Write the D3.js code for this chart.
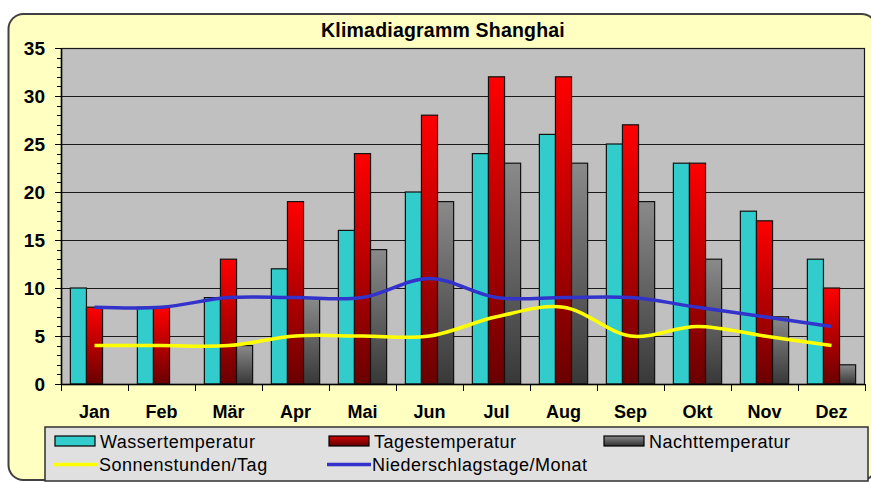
<!DOCTYPE html>
<html>
<head>
<meta charset="utf-8">
<script src="https://cdn.jsdelivr.net/npm/d3@7/dist/d3.min.js"></script>
<style>
  html, body { margin: 0; padding: 0; background: #ffffff; }
  svg { display: block; font-family: "Liberation Sans", Arial, sans-serif; }
</style>
</head>
<body>
<svg id="chart" width="871" height="482"></svg>
<script>
const title = "Klimadiagramm Shanghai";
const months = ["Jan", "Feb", "Mär", "Apr", "Mai", "Jun", "Jul", "Aug", "Sep", "Okt", "Nov", "Dez"];
const wassertemperatur = [10, 8, 9, 12, 16, 20, 24, 26, 25, 23, 18, 13];
const tagestemperatur = [8, 8, 13, 19, 24, 28, 32, 32, 27, 23, 17, 10];
const nachttemperatur = [0, 0, 4, 9, 14, 19, 23, 23, 19, 13, 7, 2];
const sonnenstunden = [4, 4, 4, 5, 5, 5, 7, 8, 5, 6, 5, 4];
const niederschlagstage = [8, 8, 9, 9, 9, 11, 9, 9, 9, 8, 7, 6];
const yTicks = [0, 5, 10, 15, 20, 25, 30, 35];
const barSeries = ["Wassertemperatur", "Tagestemperatur", "Nachttemperatur"];
const lineSeries = ["Sonnenstunden/Tag", "Niederschlagstage/Monat"];

const svg = d3.select("#chart");
const defs = svg.append("defs");

function vGrad(id, top, bottom) {
  const g = defs.append("linearGradient").attr("id", id)
    .attr("x1", 0).attr("y1", 0).attr("x2", 0).attr("y2", 1);
  g.append("stop").attr("offset", "0%").attr("stop-color", top);
  g.append("stop").attr("offset", "100%").attr("stop-color", bottom);
}
vGrad("gRed", "#ff0000", "#6a0000");
vGrad("gGray", "#8a8a8a", "#383838");
vGrad("gRedL", "#d00000", "#600000");
vGrad("gGrayL", "#8a8a8a", "#303030");

// outer frame
svg.append("rect")
  .attr("x", 8.5).attr("y", 14).attr("width", 868).attr("height", 480 - 14)
  .attr("rx", 15).attr("ry", 15)
  .attr("fill", "#ffffc2").attr("stroke", "#404040").attr("stroke-width", 2);

const L = 61, R = 865, T = 48, B = 384;

const x = d3.scaleBand().domain(months).range([L, R]).padding(0);
const xs = d3.scaleBand().domain(barSeries).range([0, x.bandwidth()])
  .paddingInner(0).paddingOuter(0.583);
const y = d3.scaleLinear().domain([0, 35]).range([B, T]);

// title
svg.append("text")
  .attr("x", 443).attr("y", 36.5)
  .attr("text-anchor", "middle")
  .attr("font-size", 19.5).attr("font-weight", "bold")
  .attr("letter-spacing", 0.2)
  .attr("fill", "#000")
  .text(title);

// plot area
svg.append("rect")
  .attr("x", L).attr("y", T).attr("width", R - L).attr("height", B - T)
  .attr("fill", "#c0c0c0");

// grid lines
svg.append("g").selectAll("line").data(yTicks.filter(d => d > 0)).join("line")
  .attr("x1", L).attr("x2", R)
  .attr("y1", d => Math.round(y(d)) + 0.5).attr("y2", d => Math.round(y(d)) + 0.5)
  .attr("stroke", "#1a1a1a").attr("stroke-width", 1);

// bars
const fills = { "Wassertemperatur": "#33cccc", "Tagestemperatur": "url(#gRed)", "Nachttemperatur": "url(#gGray)" };
const dataBySeries = { "Wassertemperatur": wassertemperatur, "Tagestemperatur": tagestemperatur, "Nachttemperatur": nachttemperatur };
barSeries.forEach(s => {
  svg.append("g").selectAll("rect")
    .data(months.map((m, i) => ({ m, v: dataBySeries[s][i] })).filter(d => d.v > 0))
    .join("rect")
    .attr("x", d => x(d.m) + xs(s))
    .attr("y", d => y(d.v))
    .attr("width", xs.bandwidth())
    .attr("height", d => y(0) - y(d.v))
    .attr("fill", fills[s])
    .attr("stroke", "#111").attr("stroke-width", 1.2);
});

// lines
const lineGen = d3.line()
  .x((d, i) => x(months[i]) + x.bandwidth() / 2)
  .y(d => y(d))
  .curve(d3.curveCatmullRom.alpha(0.5));
svg.append("path").datum(sonnenstunden)
  .attr("d", lineGen).attr("fill", "none")
  .attr("stroke", "#ffff00").attr("stroke-width", 3.5);
svg.append("path").datum(niederschlagstage)
  .attr("d", lineGen).attr("fill", "none")
  .attr("stroke", "#3333cc").attr("stroke-width", 3.5);

// plot border
svg.append("rect")
  .attr("x", L + 0.5).attr("y", T + 0.5).attr("width", R - L - 1).attr("height", B - T)
  .attr("fill", "none").attr("stroke", "#1a1a1a").attr("stroke-width", 1.2);

// y axis
const yAxisG = svg.append("g");
yAxisG.append("line").attr("x1", L + 0.5).attr("x2", L + 0.5).attr("y1", T).attr("y2", B + 1)
  .attr("stroke", "#000").attr("stroke-width", 1.5);
const minor = d3.range(0, 36, 1);
yAxisG.selectAll(".mt").data(minor).join("line")
  .attr("x1", d => d % 5 === 0 ? L - 6 : L - 4).attr("x2", L)
  .attr("y1", d => Math.round(y(d)) + 0.5).attr("y2", d => Math.round(y(d)) + 0.5)
  .attr("stroke", "#000").attr("stroke-width", 1);
yAxisG.selectAll("text").data(yTicks).join("text")
  .attr("x", 45).attr("y", d => y(d) + 7)
  .attr("text-anchor", "end")
  .attr("font-size", 19).attr("font-weight", "bold").attr("fill", "#000")
  .text(d => d);

// x axis
const xAxisG = svg.append("g");
xAxisG.append("line").attr("x1", L).attr("x2", R).attr("y1", B + 0.5).attr("y2", B + 0.5)
  .attr("stroke", "#000").attr("stroke-width", 1.5);
xAxisG.selectAll(".xt").data(months.concat(["end"])).join("line")
  .attr("x1", (d, i) => Math.round(L + i * x.bandwidth()) + 0.5)
  .attr("x2", (d, i) => Math.round(L + i * x.bandwidth()) + 0.5)
  .attr("y1", B).attr("y2", B + 7)
  .attr("stroke", "#000").attr("stroke-width", 1);
xAxisG.selectAll("text").data(months).join("text")
  .attr("x", d => x(d) + x.bandwidth() / 2)
  .attr("y", 418)
  .attr("text-anchor", "middle")
  .attr("font-size", 18).attr("font-weight", "bold").attr("fill", "#000")
  .text(d => d);

// legend
const lg = svg.append("g");
lg.append("rect").attr("x", 45).attr("y", 427).attr("width", 823).attr("height", 54)
  .attr("fill", "#e0e0e0").attr("stroke", "#303030").attr("stroke-width", 1.5);
const legendItems = [
  { name: barSeries[0], type: "bar", fill: "#33cccc", x: 55, row: 0 },
  { name: barSeries[1], type: "bar", fill: "url(#gRedL)", x: 329, row: 0 },
  { name: barSeries[2], type: "bar", fill: "url(#gGrayL)", x: 604, row: 0 },
  { name: lineSeries[0], type: "line", stroke: "#ffff00", x: 54, row: 1 },
  { name: lineSeries[1], type: "line", stroke: "#3333cc", x: 327, row: 1 }
];
legendItems.forEach(it => {
  const cy = it.row === 0 ? 441 : 464.5;
  if (it.type === "bar") {
    lg.append("rect").attr("x", it.x).attr("y", cy - 5).attr("width", 40).attr("height", 10)
      .attr("fill", it.fill).attr("stroke", "#000").attr("stroke-width", 1.2);
  } else {
    lg.append("line").attr("x1", it.x).attr("x2", it.x + 44).attr("y1", cy).attr("y2", cy)
      .attr("stroke", it.stroke).attr("stroke-width", 3.5);
  }
  lg.append("text").attr("x", it.x + 45).attr("y", cy + 6.5)
    .attr("font-size", 18).attr("letter-spacing", 0.5).attr("fill", "#000")
    .text(it.name);
});
</script>
</body>
</html>
